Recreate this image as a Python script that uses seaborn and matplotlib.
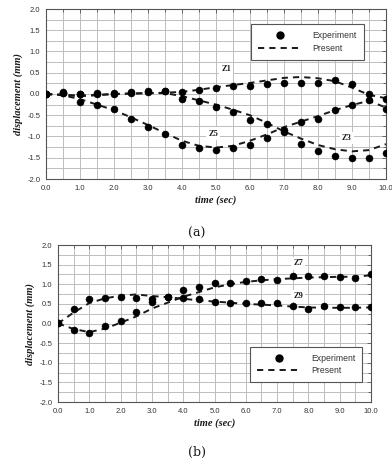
import numpy as np
import pandas as pd
import matplotlib
matplotlib.use("Agg")
import matplotlib.pyplot as plt
from matplotlib.lines import Line2D
from matplotlib.ticker import MultipleLocator, FormatStrFormatter
import seaborn as sns

sns.set_theme(style="white")
plt.rcParams['font.family'] = ['Liberation Sans', 'DejaVu Sans']

# ---------------- data ----------------
t = [0.0, 0.5, 1.0, 1.5, 2.0, 2.5, 3.0, 3.5, 4.0, 4.5, 5.0,
     5.5, 6.0, 6.5, 7.0, 7.5, 8.0, 8.5, 9.0, 9.5, 10.0]

# panel (a) experiment
z1_exp = [0.00, 0.05, 0.00, 0.00, 0.00, 0.05, 0.07, 0.08, 0.05, 0.10, 0.13,
          0.19, 0.19, 0.24, 0.27, 0.27, 0.27, 0.32, 0.24, 0.01, -0.12]
z3_exp = [0.00, 0.03, 0.00, 0.02, 0.02, 0.03, 0.05, 0.06, -0.12, -0.16, -0.31,
          -0.42, -0.61, -0.70, -0.90, -1.17, -1.34, -1.47, -1.50, -1.50, -1.39]
z5_exp = [0.00, 0.02, -0.20, -0.27, -0.35, -0.58, -0.77, -0.93, -1.19, -1.27, -1.31,
          -1.28, -1.20, -1.04, -0.85, -0.66, -0.58, -0.38, -0.25, -0.14, -0.35]
# panel (a) present
z1_mod = [0.00, -0.02, -0.05, -0.03, 0.00, 0.01, 0.02, 0.03, 0.05, 0.10, 0.16,
          0.21, 0.26, 0.32, 0.38, 0.40, 0.37, 0.30, 0.15, -0.02, -0.10]
z3_mod = [0.00, -0.02, -0.04, -0.02, 0.00, 0.01, 0.02, 0.02, -0.05, -0.15, -0.25,
          -0.37, -0.50, -0.68, -0.88, -1.05, -1.20, -1.30, -1.35, -1.32, -1.18]
z5_mod = [0.00, -0.03, -0.12, -0.25, -0.38, -0.55, -0.73, -0.92, -1.10, -1.22, -1.26,
          -1.22, -1.10, -0.95, -0.78, -0.65, -0.52, -0.38, -0.26, -0.16, -0.32]

# panel (b) experiment
z7_exp = [0.02, -0.17, -0.23, -0.06, 0.07, 0.30, 0.55, 0.68, 0.85, 0.92, 1.02,
          1.04, 1.09, 1.13, 1.10, 1.22, 1.21, 1.21, 1.18, 1.17, 1.25]
z9_exp = [0.02, 0.37, 0.62, 0.64, 0.67, 0.64, 0.62, 0.68, 0.64, 0.62, 0.56,
          0.51, 0.51, 0.51, 0.51, 0.45, 0.37, 0.45, 0.41, 0.41, 0.41]
# panel (b) present
z7_mod = [0.00, -0.14, -0.22, -0.13, 0.02, 0.18, 0.38, 0.53, 0.68, 0.80, 0.92,
          1.00, 1.06, 1.10, 1.13, 1.15, 1.17, 1.18, 1.19, 1.19, 1.23]
z9_mod = [0.00, 0.28, 0.52, 0.64, 0.71, 0.74, 0.70, 0.67, 0.63, 0.59, 0.56,
          0.53, 0.50, 0.48, 0.46, 0.43, 0.41, 0.40, 0.40, 0.40, 0.41]

labels_a = ["Z1", "Z5", "Z3"]
label_pos_a = [(5.3, 0.59), (4.92, -0.93), (8.84, -1.03)]
labels_b = ["Z7", "Z9"]
label_pos_b = [(7.67, 1.53), (7.68, 0.71)]

legend_labels = ["Experiment", "Present"]
captions = ["(a)", "(b)"]
xlabel = "time (sec)"
ylabel = "displacement (mm)"

# ---------------- figure ----------------
fig = plt.figure(figsize=(3.92, 4.61), dpi=100)
ax_a = fig.add_axes([46/392, 1-179/461, 340/392, 170/461])
ax_b = fig.add_axes([58/392, 1-402/461, 313/392, 157/461])

serif_bi = dict(family=['Liberation Serif', 'DejaVu Serif'], weight='bold', style='italic')
dark = '#1a1a1a'
dash = (0, (3.2, 2.6))


def style_axes(ax):
    ax.set_xlim(0, 10)
    ax.set_ylim(-2, 2)
    ax.xaxis.set_major_locator(MultipleLocator(1.0))
    ax.xaxis.set_minor_locator(MultipleLocator(0.5))
    ax.yaxis.set_major_locator(MultipleLocator(0.5))
    ax.yaxis.set_minor_locator(MultipleLocator(0.25))
    ax.xaxis.set_major_formatter(FormatStrFormatter('%.1f'))
    ax.yaxis.set_major_formatter(FormatStrFormatter('%.1f'))
    ax.grid(True, which='both', color='#bdbdbd', lw=0.7)
    ax.set_axisbelow(True)
    ax.tick_params(which='both', direction='in', top=True, right=True,
                   length=3, width=0.6, color='#555555', labelsize=5.5,
                   labelcolor='#333333', pad=4)
    ax.tick_params(which='minor', length=2)
    for s in ax.spines.values():
        s.set_color('#555555')
        s.set_linewidth(0.8)
    ax.set_xlabel(xlabel, fontsize=7.5, labelpad=3, color=dark, **serif_bi)
    ax.set_ylabel(ylabel, fontsize=7.5, labelpad=3, color=dark, **serif_bi)


def draw_series(ax, exp, mod):
    df = pd.DataFrame({'t': t, 'exp': exp, 'mod': mod})
    sns.lineplot(data=df, x='t', y='mod', ax=ax, color=dark, lw=1.4,
                 linestyle=dash, zorder=3)
    sns.scatterplot(data=df, x='t', y='exp', ax=ax, color='black', s=26,
                    edgecolor='black', linewidth=0.3, zorder=4)


for exp, mod in [(z1_exp, z1_mod), (z3_exp, z3_mod), (z5_exp, z5_mod)]:
    draw_series(ax_a, exp, mod)
for exp, mod in [(z7_exp, z7_mod), (z9_exp, z9_mod)]:
    draw_series(ax_b, exp, mod)

for ax in (ax_a, ax_b):
    style_axes(ax)

lab_style = dict(fontsize=6, family=['Liberation Serif', 'DejaVu Serif'], weight='bold',
                 color=dark, ha='center', va='center', zorder=5,
                 bbox=dict(facecolor='white', edgecolor='none', pad=1.5))
for lab, (x, y) in zip(labels_a, label_pos_a):
    ax_a.text(x, y, lab, **lab_style)
for lab, (x, y) in zip(labels_b, label_pos_b):
    ax_b.text(x, y, lab, **lab_style)

handles = [Line2D([], [], marker='o', color='black', ls='none', markersize=5),
           Line2D([], [], color=dark, lw=1.4, ls=dash)]


def add_legend(ax, anchor):
    leg = ax.legend(handles, legend_labels, loc='upper left', bbox_to_anchor=anchor,
                    fontsize=6.2, frameon=True, fancybox=False, framealpha=1,
                    edgecolor='#555555', handlelength=5.0, handletextpad=1.3,
                    borderpad=0.8, labelspacing=0.45, numpoints=1)
    leg.get_frame().set_linewidth(0.8)
    for txt in leg.get_texts():
        txt.set_color('#333333')
    leg.set_zorder(6)


add_legend(ax_a, (0.591, 0.935))
add_legend(ax_b, (0.60, 0.38))

fig.text(197/392, 1-233/461, captions[0], ha='center', va='center', fontsize=9,
         family=['DejaVu Serif'], color=dark)
fig.text(197/392, 1-452/461, captions[1], ha='center', va='center', fontsize=9,
         family=['DejaVu Serif'], color=dark)

fig.savefig('out.png', dpi=100)
